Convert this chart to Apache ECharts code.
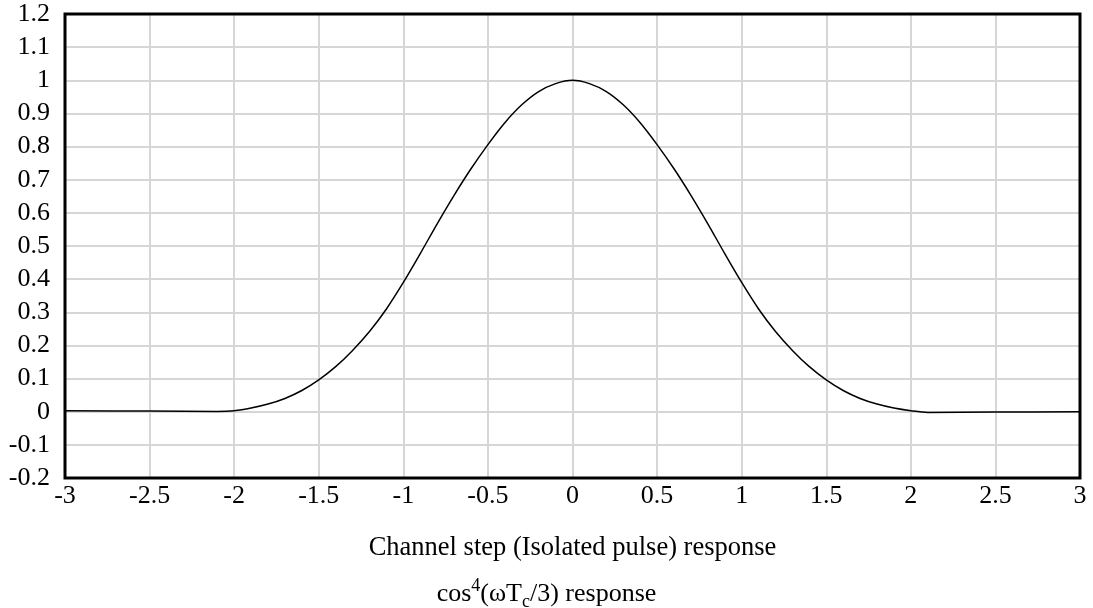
<!DOCTYPE html>
<html>
<head>
<meta charset="utf-8">
<script src="https://cdn.jsdelivr.net/npm/echarts@6/dist/echarts.min.js"></script>
<style>
  html, body { margin: 0; padding: 0; background: #fff; }
  #chart { width: 1093px; height: 608px; }
</style>
</head>
<body>
<div id="chart"></div>
<script>
// Isolated pulse response sampled along the channel step axis
const stepX = [-3.0, -2.5, -2.1, -2.0, -1.9, -1.8, -1.7, -1.6, -1.5, -1.4, -1.3, -1.2, -1.1, -1.0,
  -0.9, -0.8, -0.7, -0.6, -0.5, -0.4, -0.3, -0.2, -0.1, 0.0,
  0.1, 0.2, 0.3, 0.4, 0.5, 0.6, 0.7, 0.8, 0.9, 1.0,
  1.1, 1.2, 1.3, 1.4, 1.5, 1.6, 1.7, 1.8, 1.9, 2.0, 2.1, 2.5, 3.0];
const response = [0.003, 0.002, 0.001, 0.003, 0.011, 0.023, 0.040, 0.064, 0.096, 0.136, 0.185, 0.242, 0.310, 0.390,
  0.477, 0.567, 0.653, 0.733, 0.806, 0.872, 0.926, 0.966, 0.990, 1.000,
  0.990, 0.966, 0.926, 0.872, 0.806, 0.733, 0.653, 0.567, 0.477, 0.390,
  0.310, 0.242, 0.185, 0.136, 0.096, 0.064, 0.040, 0.023, 0.011, 0.003, -0.002, -0.001, 0.000];

const xTitle = 'Channel step (Isolated pulse) response';
const serif = 'Liberation Serif';
const gridColor = '#d6d6d6';

const chart = echarts.init(document.getElementById('chart'), null, { renderer: 'canvas' });
chart.setOption({
  animation: false,
  backgroundColor: '#fff',
  grid: {
    left: 65, right: 13, top: 14, bottom: 130,
    show: true, borderColor: '#000', borderWidth: 3, z: 10
  },
  title: {
    text: '{a|cos}{sup|4}{a|(ωT}{sub|c}{a|/3) response}',
    left: 'center', top: 577,
    padding: 0,
    textStyle: {
      fontWeight: 'normal',
      rich: {
        a: { fontFamily: serif, fontSize: 26, fontWeight: 'normal', color: '#000', lineHeight: 34 },
        sup: { fontFamily: serif, fontSize: 18, fontWeight: 'normal', color: '#000', lineHeight: 34, verticalAlign: 'top' },
        sub: { fontFamily: serif, fontSize: 18, fontWeight: 'normal', color: '#000', lineHeight: 34, verticalAlign: 'bottom' }
      }
    }
  },
  xAxis: {
    type: 'value', min: -3, max: 3, interval: 0.5,
    name: xTitle, nameLocation: 'middle', nameGap: 57,
    nameTextStyle: { fontFamily: serif, fontSize: 26.5, color: '#000' },
    axisLine: { show: false }, axisTick: { show: false },
    axisLabel: { fontFamily: serif, fontSize: 26, color: '#000', margin: 5 },
    splitLine: { show: true, showMinLine: false, showMaxLine: false, lineStyle: { color: gridColor, width: 2 } }
  },
  yAxis: {
    type: 'value', min: -0.2, max: 1.2, interval: 0.1,
    axisLine: { show: false }, axisTick: { show: false },
    axisLabel: { fontFamily: serif, fontSize: 26, color: '#000', margin: 15 },
    splitLine: { show: true, showMinLine: false, showMaxLine: false, lineStyle: { color: gridColor, width: 2 } }
  },
  series: [{
    type: 'line',
    data: stepX.map((x, i) => [x, response[i]]),
    showSymbol: false,
    smooth: 0.3,
    lineStyle: { color: '#000', width: 1.5 },
    z: 5
  }]
});
</script>
</body>
</html>
